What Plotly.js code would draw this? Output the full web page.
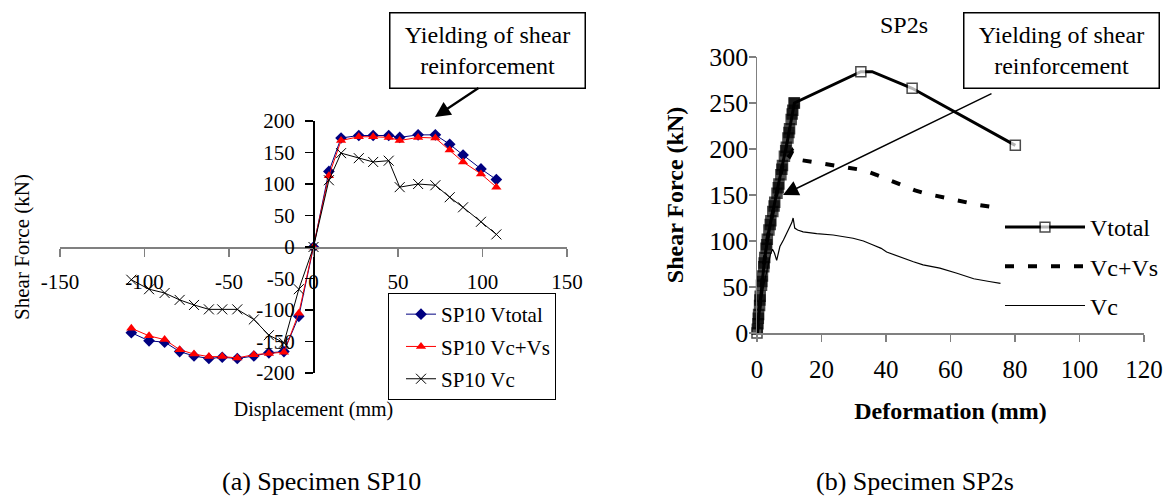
<!DOCTYPE html>
<html><head><meta charset="utf-8">
<script src="https://cdn.plot.ly/plotly-3.0.1.min.js"></script>
<style>html,body{margin:0;padding:0;background:#fff}</style>
</head><body><div id="chart" style="width:1170px;height:502px"></div>
<script>
const SERIF = '"Liberation Serif", "Times New Roman", Times, serif';

// ---------- (a) Specimen SP10 ----------
const sp10Disp   = [-107.8,-97.3,-88.1,-79.2,-70.7,-61.9,-54.0,-45.1,-35.3,-26.4,-17.5,-8.7,0,9.1,16.3,26.8,35.3,44.5,51.0,61.9,72.1,80.6,88.5,99.1,108.2];
const sp10Vtotal = [-136,-149,-151,-166,-173,-177,-175,-177,-173,-168,-166,-110,0,120,173,177,177,177,174,178,178,163,146,124,107];
const sp10VcVs   = [-129,-141,-147,-163,-170,-174,-174,-176,-171,-169,-167,-105,0,113,169,175,175,174,169,174,173,154,135,116,95];
const sp10Vc     = [-52,-67,-73,-84,-92,-99,-99,-99,-115,-140,-152,-67,0,106,149,141,135,137,95,100,98,79,63,40,20];
const sp10XTicks = [-150,-100,-50,0,50,100,150];
const sp10XText  = ['-150','-100','-50','0','50','100','150'];
const sp10YTicks = [-200,-150,-100,-50,0,50,100,150,200];
const sp10YText  = ['-200','-150','-100','-50','0','50','100','150','200'];

// ---------- (b) Specimen SP2s ----------
const sp2sTotalDef = [0,0.3,0.1,0.5,0.8,0.4,1.0,1.4,0.9,1.7,2.1,1.5,2.4,2.8,2.2,3.2,3.7,3.0,4.3,4.9,4.1,5.5,6.2,5.3,6.8,7.4,6.6,7.9,8.5,7.7,9.1,9.6,8.9,10.1,10.6,9.9,11.1,11.5,10.9,11.6,32.2,35.7,48.1,80.1];
const sp2sTotalV   = [0,10,4,20,30,16,40,52,36,62,72,56,82,92,76,102,112,96,122,132,118,142,152,138,162,172,158,182,192,178,202,212,198,222,232,218,242,250,238,250,284,284,266,204];
const sp2sVcVsDef  = [0,1.0,2.2,3.2,4.3,5.5,6.8,7.9,9.1,10.1,11.0,11.4,13.5,20,27,33,37,41,45,49,53,57,63,69,75];
const sp2sVcVsV    = [0,40,76,102,122,142,162,182,195,192,198,196,188,184,180,177,172,166,160,155,151,148,143,139,136];
const sp2sVcDef    = [0,1.0,2.1,3.2,4.2,4.8,5.4,6.1,7.1,8.2,9.2,10.3,10.8,11.2,11.4,11.7,12.6,14.3,18.5,23.6,29.8,33.0,36.0,38.5,40.2,42.5,45.4,48.5,51.5,56.7,62.0,67.2,72.0,75.5];
const sp2sVcV      = [0,28,52,72,86,91,87,79,94,101,108,117,120,125,121,114,112,110,108,106.5,103,100,95.6,92,88,85,81,77.5,74,70.5,65,59,56,54];

// marker styling per point for Vtotal: dense cyclic band appears solid black, later points open (white) squares
const nTot = sp2sTotalDef.length;
const isOpen = (i) => (i === 0 || i >= nTot - 4);
const totColors  = sp2sTotalDef.map((d, i) => isOpen(i) ? '#ffffff' : '#000000');
const totSizes   = sp2sTotalDef.map((d, i) => (i === nTot - 3) ? 0 : 10);

const traces = [
  {x: sp10Disp, y: sp10Vtotal, name: 'SP10 Vtotal', xaxis: 'x', yaxis: 'y', mode: 'lines+markers',
   line: {color: '#000080', width: 1}, marker: {symbol: 'diamond', size: 9, color: '#000080'}, legend: 'legend', legendgroup: 'p'},
  {x: sp10Disp, y: sp10VcVs, name: 'SP10 Vc+Vs', xaxis: 'x', yaxis: 'y', mode: 'lines+markers',
   line: {color: '#ff0000', width: 1}, marker: {symbol: 'triangle-up', size: 9, color: '#ff0000'}, legend: 'legend', legendgroup: 'q'},
  {x: sp10Disp, y: sp10Vc, name: 'SP10 Vc', xaxis: 'x', yaxis: 'y', mode: 'lines+markers',
   line: {color: '#000000', width: 1}, marker: {symbol: 'x-thin-open', size: 10, color: '#000000', line: {width: 1, color: '#000'}}, legend: 'legend', legendgroup: 'r'},

  {x: sp2sTotalDef, y: sp2sTotalV, name: 'Vtotal', xaxis: 'x2', yaxis: 'y2', mode: 'lines+markers', cliponaxis: false,
   line: {color: '#000', width: 3}, marker: {symbol: 'square', size: totSizes, color: totColors, line: {color: '#000', width: 1.5}},
   legend: 'legend2', legendgroup: 'a'},
  {x: sp2sVcVsDef, y: sp2sVcVsV, name: 'Vc+Vs', xaxis: 'x2', yaxis: 'y2', mode: 'lines', cliponaxis: false,
   line: {color: '#000', width: 4, dash: '9px,14px'}, legend: 'legend2', legendgroup: 'b'},
  {x: sp2sVcDef, y: sp2sVcV, name: 'Vc', xaxis: 'x2', yaxis: 'y2', mode: 'lines', cliponaxis: false,
   line: {color: '#000', width: 1.2}, legend: 'legend2', legendgroup: 'c'}
];

const axCommon = {showgrid: false, zeroline: false, showline: true, ticks: 'outside', fixedrange: true};

const layout = {
  width: 1170, height: 502, autosize: false,
  margin: {l: 0, r: 0, t: 0, b: 0},
  paper_bgcolor: '#ffffff', plot_bgcolor: 'rgba(0,0,0,0)',
  font: {family: SERIF, color: '#000'},
  title: {text: 'SP2s', font: {family: SERIF, size: 24, color: '#000'}, xref: 'paper', yref: 'paper',
          x: 904/1170, xanchor: 'center', y: 1 - 25/502, yanchor: 'middle'},
  xaxis: Object.assign({}, axCommon, {domain: [60/1170, 567/1170], range: [-150, 150], anchor: 'free', position: 1 - 247/502,
          tickmode: 'array', tickvals: sp10XTicks, ticktext: sp10XText,
          linecolor: '#808080', linewidth: 1.5, ticklen: 8, tickwidth: 1.5, tickcolor: '#808080',
          tickfont: {size: 21}, ticklabelstandoff: 7,
          title: {text: 'Displacement (mm)', font: {size: 20}, standoff: 109}}),
  yaxis: Object.assign({}, axCommon, {domain: [1 - 373/502, 1 - 121/502], range: [-200, 200], anchor: 'free', position: 313/1170,
          tickmode: 'array', tickvals: sp10YTicks, ticktext: sp10YText,
          linecolor: '#000', linewidth: 1.5, ticklen: 8, tickwidth: 1.5, tickcolor: '#000',
          tickfont: {size: 21}, ticklabelstandoff: 6,
          title: {text: 'Shear Force (kN)', font: {size: 21}, standoff: 219}}),
  xaxis2: Object.assign({}, axCommon, {domain: [757/1170, 1144/1170], range: [0, 120], dtick: 20, anchor: 'y2',
          linecolor: '#808080', linewidth: 1.5, ticklen: 7, tickwidth: 1.5, tickcolor: '#808080',
          tickfont: {size: 25}, ticklabelstandoff: 6,
          title: {text: '<b>Deformation (mm)</b>', font: {size: 24}, standoff: 20}}),
  yaxis2: Object.assign({}, axCommon, {domain: [1 - 333/502, 1 - 57/502], range: [0, 300], dtick: 50, anchor: 'x2',
          linecolor: '#808080', linewidth: 1.5, ticklen: 7, tickwidth: 1.5, tickcolor: '#808080',
          tickfont: {size: 26}, ticklabelstandoff: -5,
          title: {text: '<b>Shear Force (kN)</b>', font: {size: 24}, standoff: 19}}),
  legend: {x: 388/1170, y: 1 - 293/502, xanchor: 'left', yanchor: 'top', bgcolor: '#fff', bordercolor: '#000', borderwidth: 1,
           font: {size: 21}, indentation: 12, entrywidth: 168, tracegroupgap: 2},
  legend2: {x: 1000/1170, y: 1 - 205/502, xanchor: 'left', yanchor: 'top', bgcolor: 'rgba(0,0,0,0)', borderwidth: 0,
            font: {size: 24}, itemwidth: 80, tracegroupgap: 5},
  annotations: [
    {xref: 'paper', yref: 'paper', x: 487.7/1170, y: 1 - 50/502, xanchor: 'center', yanchor: 'middle',
     text: 'Yielding of shear<br>reinforcement', showarrow: false, font: {size: 24}, align: 'center',
     bordercolor: '#000', borderwidth: 1.5, borderpad: 2, bgcolor: '#fff', width: 190, height: 70},
    {xref: 'paper', yref: 'paper', x: 1061.3/1170, y: 1 - 50.5/502, xanchor: 'center', yanchor: 'middle',
     text: 'Yielding of shear<br>reinforcement', showarrow: false, font: {size: 24}, align: 'center',
     bordercolor: '#000', borderwidth: 1.5, borderpad: 2, bgcolor: '#fff', width: 190, height: 70},
    {xref: 'paper', yref: 'paper', x: 435/1170, y: 1 - 117/502, ax: 45, ay: -30, text: '', showarrow: true,
     arrowhead: 2, arrowsize: 1.4, arrowwidth: 2.2, arrowcolor: '#000'},
    {xref: 'x2', yref: 'y2', x: 8.06, y: 150, ax: 210, ay: -102, text: '', showarrow: true,
     arrowhead: 2, arrowsize: 2.2, arrowwidth: 1.4, arrowcolor: '#000'},
    {xref: 'paper', yref: 'paper', x: 321/1170, y: 1 - 481/502, xanchor: 'center', yanchor: 'middle',
     text: '(a) Specimen SP10', showarrow: false, font: {size: 26}},
    {xref: 'paper', yref: 'paper', x: 915/1170, y: 1 - 481/502, xanchor: 'center', yanchor: 'middle',
     text: '(b) Specimen SP2s', showarrow: false, font: {size: 26}}
  ]
};

Plotly.newPlot('chart', traces, layout, {staticPlot: true, displayModeBar: false});
</script>
</body></html>
